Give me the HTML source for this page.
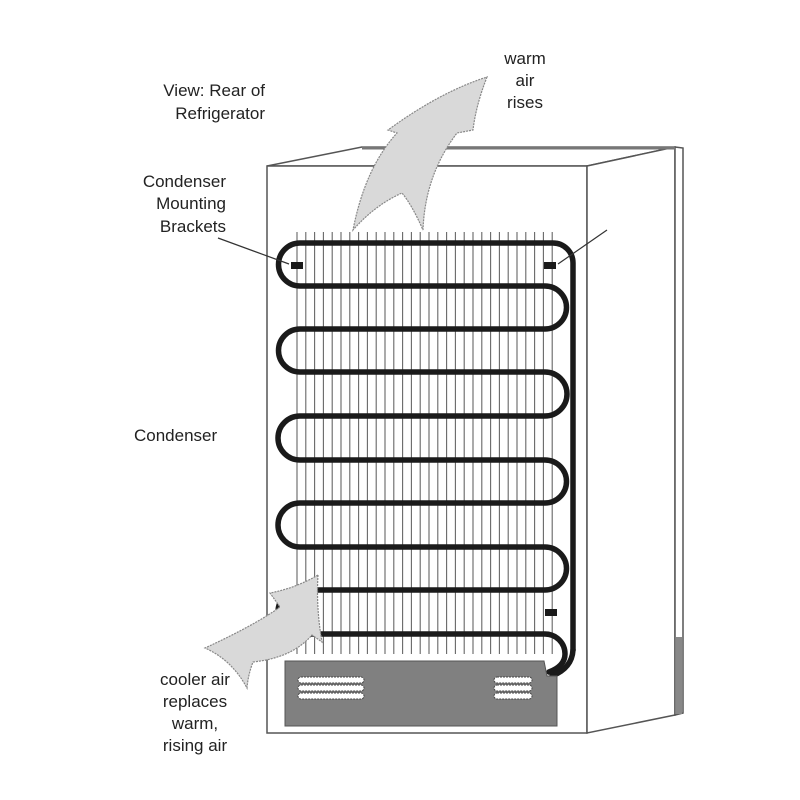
<!DOCTYPE html>
<html><head><meta charset="utf-8"><style>
html,body{margin:0;padding:0;background:#fff;}
svg{display:block}
text{font-family:"Liberation Sans",Arial,sans-serif;font-size:17px;fill:#222}
</style></head><body>
<svg width="800" height="800" viewBox="0 0 800 800" xmlns="http://www.w3.org/2000/svg">
<g fill="none" stroke="#555" stroke-width="1.5">
<polygon points="267,166 362,147 675,147 587,166" fill="#fff"/>
<rect x="267" y="166" width="320" height="567" fill="#fff"/>
<polygon points="587,166 675,147 675,715 587,733" fill="#fff"/>
<polygon points="675,147 683,148 683,713 675,715" fill="#fff"/>
</g>
<line x1="362" y1="148" x2="675" y2="148" stroke="#777" stroke-width="3"/>
<rect x="676" y="637" width="6" height="77" fill="#888"/>
<g stroke="#666" stroke-width="1.1">
<line x1="297" y1="232" x2="297" y2="654"/><line x1="305.8" y1="232" x2="305.8" y2="654"/><line x1="314.6" y1="232" x2="314.6" y2="654"/><line x1="323.4" y1="232" x2="323.4" y2="654"/><line x1="332.2" y1="232" x2="332.2" y2="654"/><line x1="341" y1="232" x2="341" y2="654"/><line x1="349.8" y1="232" x2="349.8" y2="654"/><line x1="358.6" y1="232" x2="358.6" y2="654"/><line x1="367.4" y1="232" x2="367.4" y2="654"/><line x1="376.2" y1="232" x2="376.2" y2="654"/><line x1="385" y1="232" x2="385" y2="654"/><line x1="393.8" y1="232" x2="393.8" y2="654"/><line x1="402.6" y1="232" x2="402.6" y2="654"/><line x1="411.4" y1="232" x2="411.4" y2="654"/><line x1="420.2" y1="232" x2="420.2" y2="654"/><line x1="429" y1="232" x2="429" y2="654"/><line x1="437.8" y1="232" x2="437.8" y2="654"/><line x1="446.6" y1="232" x2="446.6" y2="654"/><line x1="455.4" y1="232" x2="455.4" y2="654"/><line x1="464.2" y1="232" x2="464.2" y2="654"/><line x1="473" y1="232" x2="473" y2="654"/><line x1="481.8" y1="232" x2="481.8" y2="654"/><line x1="490.6" y1="232" x2="490.6" y2="654"/><line x1="499.4" y1="232" x2="499.4" y2="654"/><line x1="508.2" y1="232" x2="508.2" y2="654"/><line x1="517" y1="232" x2="517" y2="654"/><line x1="525.8" y1="232" x2="525.8" y2="654"/><line x1="534.6" y1="232" x2="534.6" y2="654"/><line x1="543.4" y1="232" x2="543.4" y2="654"/><line x1="552.2" y1="232" x2="552.2" y2="654"/>
</g>
<g fill="none" stroke="#1a1a1a" stroke-width="5.5" stroke-linecap="round">
<path d="M573,650 L573,263 A20,20 0 0 0 553,243 L300,243 A21.5,21.5 0 0 0 300,286 L545,286 A21.5,21.5 0 0 1 545,329 L300,329 A21.5,21.5 0 0 0 300,372 L545,372 A22,22 0 0 1 545,416 L300,416 A22,22 0 0 0 300,460 L545,460 A21.5,21.5 0 0 1 545,503 L300,503 A22,22 0 0 0 300,547 L545,547 A21.5,21.5 0 0 1 545,590 L300,590 A22,22 0 0 0 300,634 L545,634 A20,20 0 0 1 565,654 Q565,666 549,672"/>
<path d="M573,650 Q572,668 552,676"/>
</g>
<g fill="#1a1a1a">
<rect x="291" y="262" width="12" height="7"/>
<rect x="544" y="262" width="12" height="7"/>
<rect x="545" y="609" width="12" height="7"/>
</g>
<path d="M285,661 L544,661 L547,676 L557,676 L557,726 L285,726 Z" fill="#808080" stroke="#555" stroke-width="1"/>
<g fill="#fff" stroke="#444" stroke-width="1" stroke-dasharray="2,1">
<rect x="298" y="677" width="66" height="6" rx="3"/>
<rect x="298" y="685" width="66" height="6" rx="3"/>
<rect x="298" y="693" width="66" height="6" rx="3"/>
<rect x="494" y="677" width="38" height="6" rx="3"/>
<rect x="494" y="685" width="38" height="6" rx="3"/>
<rect x="494" y="693" width="38" height="6" rx="3"/>
</g>
<g fill="#d9d9d9" stroke="#888" stroke-width="1.2" stroke-dasharray="2,1">
<path d="M487,77 Q476,105 473,130 L457,133 Q425,175 423,230 Q412,205 402,193 Q375,205 353,230 Q365,168 397,133 L388,130 Q440,92 487,77 Z"/>
<path d="M318,575 Q316,608 322,642 L312,635 Q292,658 253,662 Q248,675 247,688 Q232,660 205,648 Q255,625 280,607 L270,593 Q296,588 318,575 Z"/>
</g>
<g stroke="#333" stroke-width="1.2">
<line x1="218" y1="238" x2="289" y2="264"/>
<line x1="558" y1="264" x2="607" y2="230"/>
</g>
<g text-anchor="end">
<text x="265" y="96">View:  Rear  of</text>
<text x="265" y="119">Refrigerator</text>
<text x="226" y="187">Condenser</text>
<text x="226" y="209">Mounting</text>
<text x="226" y="232">Brackets</text>
</g>
<text x="134" y="441">Condenser</text>
<g text-anchor="middle">
<text x="525" y="64">warm</text>
<text x="525" y="86">air</text>
<text x="525" y="108">rises</text>
<text x="195" y="685">cooler  air</text>
<text x="195" y="707">replaces</text>
<text x="195" y="729">warm,</text>
<text x="195" y="751">rising  air</text>
</g>
</svg>
</body></html>
